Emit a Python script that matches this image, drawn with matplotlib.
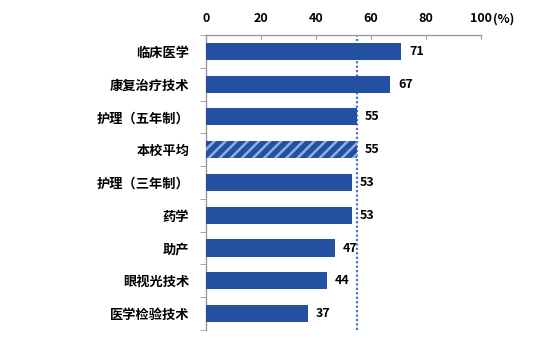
import matplotlib
matplotlib.use("Agg")
import matplotlib.pyplot as plt
import numpy as np

plt.rcParams['font.family'] = ['Noto Sans CJK SC', 'DejaVu Sans']
plt.rcParams['hatch.linewidth'] = 1.8

categories = ["临床医学", "康复治疗技术", "护理（五年制）", "本校平均", "护理（三年制）",
              "药学", "助产", "眼视光技术", "医学检验技术"]
values = [71, 67, 55, 55, 53, 53, 47, 44, 37]
average_label = "本校平均"
average_value = 55
x_ticks = [0, 20, 40, 60, 80, 100]

bar_color = "#2350A0"
hatch_color = "#8EB0DE"

fig = plt.figure(figsize=(5.47, 3.37), dpi=100)
ax = fig.add_axes([0.3766, 0.021, 0.503, 0.875])

y = np.arange(len(categories))
for yi, cat, v in zip(y, categories, values):
    if cat == average_label:
        ax.barh(yi, v, height=0.52, color=bar_color, edgecolor=hatch_color,
                hatch="///", linewidth=0, zorder=3)
    else:
        ax.barh(yi, v, height=0.52, color=bar_color, linewidth=0, zorder=3)
    ax.text(v + 2.8, yi, str(v), va="center", ha="left", fontsize=9,
            fontweight="bold", color="black")

ax.axvline(average_value, color="#4A74C8", linestyle=(0, (1, 1)), linewidth=1.6, zorder=2)

ax.set_xlim(0, 100)
ax.set_ylim(len(categories) - 0.5, -0.5)
ax.xaxis.tick_top()
ax.set_xticks(x_ticks)
ax.set_xticklabels([str(t) for t in x_ticks], fontsize=9, fontweight="bold")
ax.tick_params(axis="x", direction="in", length=3, color="#999999", pad=7)
ax.set_yticks(y)
ax.set_yticklabels(categories, fontsize=9.5, fontweight="bold")
ax.set_yticks(np.arange(-0.5, len(categories), 1), minor=True)
ax.tick_params(axis="y", which="major", length=0, pad=12)
ax.tick_params(axis="y", which="minor", direction="out", length=4, color="#999999")

for side in ["right", "bottom"]:
    ax.spines[side].set_visible(False)
for side in ["top", "left"]:
    ax.spines[side].set_color("#999999")
    ax.spines[side].set_linewidth(1)

# unit label placed right after the last tick label, on the same line
fig.canvas.draw()
bb = ax.get_xticklabels()[-1].get_window_extent()
px = fig.transFigure.inverted().transform((bb.x1 + 1, bb.y0))
fig.text(px[0], px[1], "(%)", ha="left", va="bottom", fontsize=9, fontweight="bold")

fig.savefig("out.png", dpi=100)
